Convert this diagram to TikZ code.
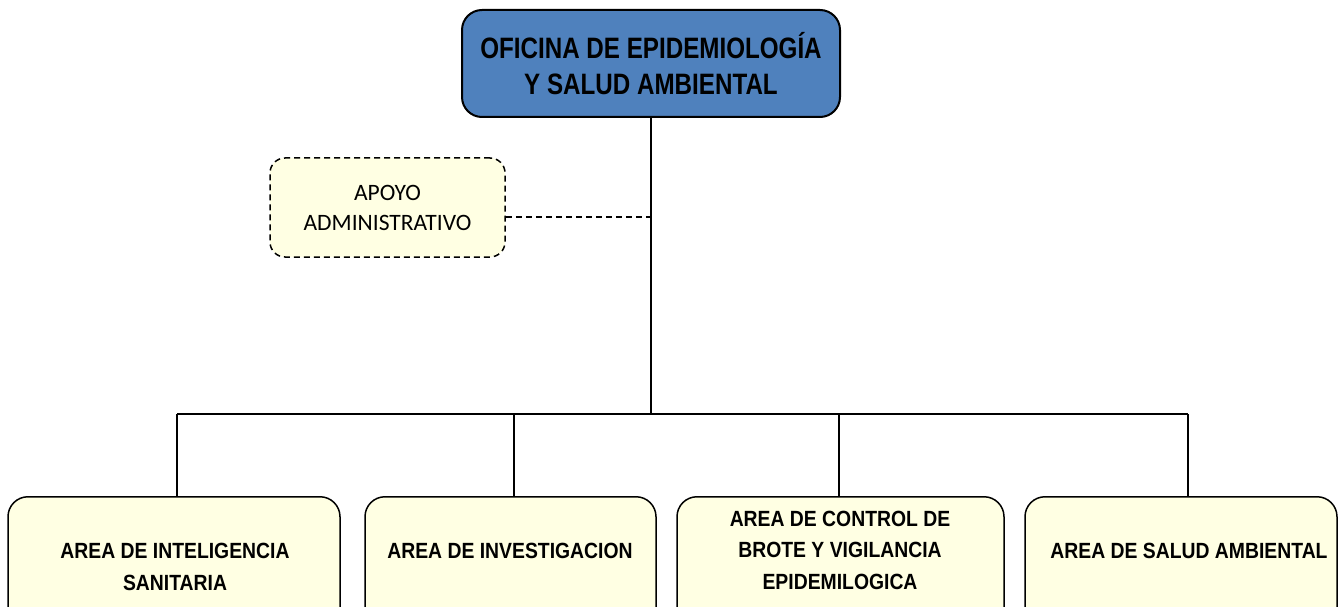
\documentclass[tikz,border=0pt]{standalone}
\usepackage{fontspec}
\setmainfont{Liberation Sans}
\newfontfamily\topfont[FakeStretch=0.82]{Liberation Sans}
\newfontfamily\areafont[FakeStretch=0.88]{Liberation Sans}
\newfontfamily\calfont{Carlito}
\definecolor{topblue}{HTML}{4F81BD}
\definecolor{paleyellow}{HTML}{FFFFE3}
\tikzset{
  topbox/.style={draw=black, line width=2pt, fill=topblue, rounded corners=20pt, minimum width=378pt, minimum height=107pt, inner sep=0pt},
  supportbox/.style={draw=black, line width=1.5pt, dashed, dash pattern=on 6pt off 4pt, fill=paleyellow, rounded corners=15pt, minimum width=235pt, minimum height=99pt, inner sep=0pt},
  areabox/.style={draw=black, line width=1.5pt, fill=paleyellow, rounded corners=20pt, minimum height=140pt, anchor=north, inner sep=0pt},
  areatext/.style={align=center, font=\areafont\bfseries\fontsize{22}{31.5}\selectfont, inner sep=0pt},
  conn/.style={draw=black, line width=1.5pt},
  dconn/.style={draw=black, line width=1.5pt, dash pattern=on 6pt off 4pt}
}
\begin{document}
\begin{tikzpicture}[x=1pt,y=-1pt]
\useasboundingbox (0,0) rectangle (1344,607);
\clip (0,0) rectangle (1344,607);
\fill[white] (0,0) rectangle (1344,607);
% top box
\node[topbox, align=center, font=\topfont\bfseries\fontsize{29.5}{36}\selectfont] (top) at (651,63.5) {OFICINA DE EPIDEMIOLOGÍA\\Y SALUD AMBIENTAL};
% support box
\node[supportbox, align=center, font=\calfont\fontsize{23.5}{30}\selectfont] (apoyo) at (387.5,207.5) {APOYO\\ADMINISTRATIVO};
% area boxes
\node[areabox, minimum width=332pt] (b1) at (174,496) {};
\node[areabox, minimum width=291pt] (b2) at (510.5,496) {};
\node[areabox, minimum width=327pt] (b3) at (840.5,496) {};
\node[areabox, minimum width=312pt] (b4) at (1181,496) {};
\node[areatext] (t1) at (175,567) {AREA DE INTELIGENCIA\\SANITARIA};
\node[areatext] (t2) at (510,551) {AREA DE INVESTIGACION};
\node[areatext] (t3) at (840,550) {AREA DE CONTROL DE\\BROTE Y VIGILANCIA\\EPIDEMILOGICA};
\node[areatext] (t4) at (1189,551) {AREA DE SALUD AMBIENTAL};
% connector coordinates
\coordinate (jm) at (651,414);
\coordinate (j1) at (177,414);
\coordinate (j2) at (514,414);
\coordinate (j3) at (839,414);
\coordinate (j4) at (1188,414);
\coordinate (dj) at (651,217);
% connectors
\draw[conn] (top.south) -- (jm);
\draw[conn] (j1) -- (j4);
\draw[conn] (j1) -- (j1 |- b1.north);
\draw[conn] (j2) -- (j2 |- b2.north);
\draw[conn] (j3) -- (j3 |- b3.north);
\draw[conn] (j4) -- (j4 |- b4.north);
\draw[dconn] (dj -| apoyo.east) -- (dj);
\end{tikzpicture}
\end{document}
